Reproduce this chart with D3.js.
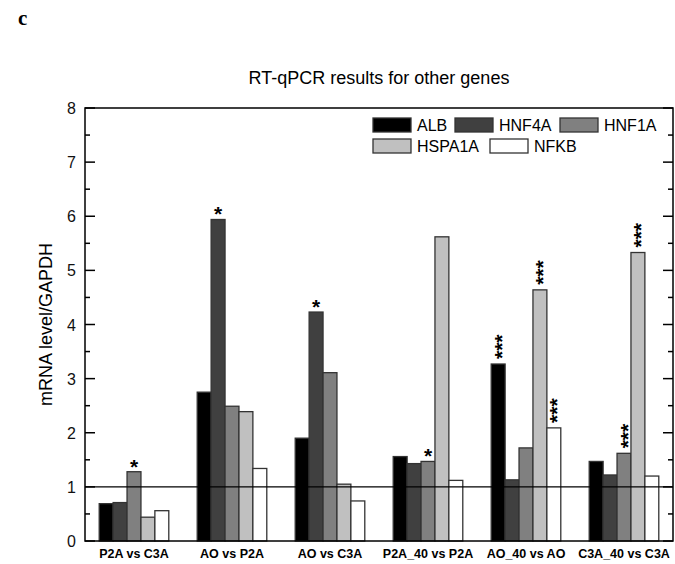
<!DOCTYPE html>
<html lang="en">
<head>
    <meta charset="UTF-8">
    <title>RT-qPCR results for other genes</title>
    <script src="https://d3js.org/d3.v7.min.js"></script>
    <style>
        body { margin: 0; background: #fff; }
        svg { display: block; font-family: "Liberation Sans", Arial, sans-serif; }
        .bar { stroke: #333; stroke-width: 1.3px; }
        .tick-label { font-size: 16px; fill: #111; }
        .xlab { font-size: 12.5px; font-weight: bold; fill: #000; }
        .legend text { font-size: 16px; fill: #000; }
        .star { font-size: 21px; font-weight: bold; fill: #000; }
    </style>
</head>
<body>
    <svg width="675" height="564"></svg>
    <script>
        // data
        const groups = ["P2A vs C3A", "AO vs P2A", "AO vs C3A", "P2A_40 vs P2A", "AO_40 vs AO", "C3A_40 vs C3A"];
        const genes = ["ALB", "HNF4A", "HNF1A", "HSPA1A", "NFKB"];
        const geneColors = ["#000000", "#404040", "#808080", "#c0c0c0", "#ffffff"];
        const ALB    = [0.69, 2.75, 1.90, 1.56, 3.27, 1.47];
        const HNF4A  = [0.71, 5.94, 4.23, 1.43, 1.13, 1.22];
        const HNF1A  = [1.28, 2.49, 3.11, 1.47, 1.72, 1.62];
        const HSPA1A = [0.44, 2.39, 1.05, 5.62, 4.64, 5.33];
        const NFKB   = [0.56, 1.34, 0.74, 1.12, 2.09, 1.20];
        // significance marks: [group, gene, label]
        const stars = [
            [0, 2, "*"], [1, 1, "*"], [2, 1, "*"], [3, 2, "*"],
            [4, 0, "***"], [4, 3, "***"], [4, 4, "***"],
            [5, 2, "***"], [5, 3, "***"]
        ];
        const yTicks = [0, 1, 2, 3, 4, 5, 6, 7, 8];

        const series = [ALB, HNF4A, HNF1A, HSPA1A, NFKB];

        const svg = d3.select("svg");
        const pL = 85, pR = 673, pT = 108, pB = 541;

        const x0 = d3.scaleBand().domain(groups).range([pL, pR])
            .paddingInner(0.29).paddingOuter(0.145);
        const x1 = d3.scaleBand().domain(genes).range([0, x0.bandwidth()]);
        const y = d3.scaleLinear().domain([0, 8]).range([pB, pT]);

        // panel letter
        svg.append("text")
            .attr("x", 18).attr("y", 25)
            .style("font-family", "'Liberation Serif', 'Times New Roman', serif")
            .style("font-weight", "bold").style("font-size", "21px")
            .text("c");

        // title
        svg.append("text")
            .attr("x", (pL + pR) / 2).attr("y", 84)
            .attr("text-anchor", "middle")
            .style("font-size", "18px")
            .text("RT-qPCR results for other genes");

        // y label
        svg.append("text")
            .attr("transform", `translate(52,${(pT + pB) / 2}) rotate(-90)`)
            .attr("text-anchor", "middle")
            .style("font-size", "18px")
            .text("mRNA level/GAPDH");

        // bars
        const rows = [];
        groups.forEach((g, gi) => {
            genes.forEach((k, ki) => rows.push({ g, k, ki, v: series[ki][gi] }));
        });

        svg.append("g").selectAll("rect")
            .data(rows)
            .enter().append("rect")
            .attr("class", "bar")
            .attr("x", d => x0(d.g) + x1(d.k))
            .attr("y", d => y(d.v))
            .attr("width", x1.bandwidth())
            .attr("height", d => y(0) - y(d.v))
            .attr("fill", d => geneColors[d.ki]);

        // reference line at 1
        svg.append("line")
            .attr("x1", pL).attr("x2", pR)
            .attr("y1", y(1)).attr("y2", y(1))
            .attr("stroke", "#000").attr("stroke-width", 1.3);

        // stars: single ones upright, triple ones run upward like the original
        stars.forEach(([gi, ki, s]) => {
            const cx = x0(groups[gi]) + x1(genes[ki]) + x1.bandwidth() / 2;
            const ty = y(series[ki][gi]);
            if (s.length === 1) {
                svg.append("text").attr("class", "star")
                    .attr("x", cx).attr("y", ty + 2)
                    .attr("text-anchor", "middle").text(s);
            } else {
                svg.append("text").attr("class", "star")
                    .attr("transform", `translate(${cx + 10.5},${ty - 5}) rotate(-90)`)
                    .text(s);
            }
        });

        // frame
        svg.append("rect")
            .attr("x", pL).attr("y", pT)
            .attr("width", pR - pL).attr("height", pB - pT)
            .attr("fill", "none").attr("stroke", "#000").attr("stroke-width", 1.5);

        // left axis, ticks pointing inward
        const axL = svg.append("g").attr("transform", `translate(${pL},0)`);
        axL.selectAll("line")
            .data(d3.range(0, 8.01, 0.5))
            .enter().append("line")
            .attr("x1", 0).attr("x2", d => (d % 1 === 0 ? 10 : 5))
            .attr("y1", d => y(d)).attr("y2", d => y(d))
            .attr("stroke", "#000").attr("stroke-width", 1.5);
        axL.selectAll("text")
            .data(yTicks)
            .enter().append("text")
            .attr("class", "tick-label")
            .attr("x", -9).attr("y", d => y(d) + 6)
            .attr("text-anchor", "end")
            .text(d => d);

        // right ticks mirrored
        svg.append("g").selectAll("line")
            .data(d3.range(0, 8.01, 0.5))
            .enter().append("line")
            .attr("x1", pR).attr("x2", d => pR - (d % 1 === 0 ? 10 : 5))
            .attr("y1", d => y(d)).attr("y2", d => y(d))
            .attr("stroke", "#000").attr("stroke-width", 1.5);

        // x labels
        svg.append("g").selectAll("text")
            .data(groups)
            .enter().append("text")
            .attr("class", "xlab")
            .attr("x", d => x0(d) + x0.bandwidth() / 2)
            .attr("y", 558)
            .attr("text-anchor", "middle")
            .text(d => d);

        // legend
        const legendPos = [[373, 118], [455, 118], [560, 118], [373, 139], [490, 139]];
        const legend = svg.append("g").attr("class", "legend");
        genes.forEach((k, i) => {
            const [lx, ly] = legendPos[i];
            legend.append("rect")
                .attr("x", lx).attr("y", ly).attr("width", 38).attr("height", 14)
                .attr("fill", geneColors[i]).attr("stroke", "#333").attr("stroke-width", 1.3);
            legend.append("text")
                .attr("x", lx + 44).attr("y", ly + 13)
                .text(k);
        });
    </script>
</body>
</html>
